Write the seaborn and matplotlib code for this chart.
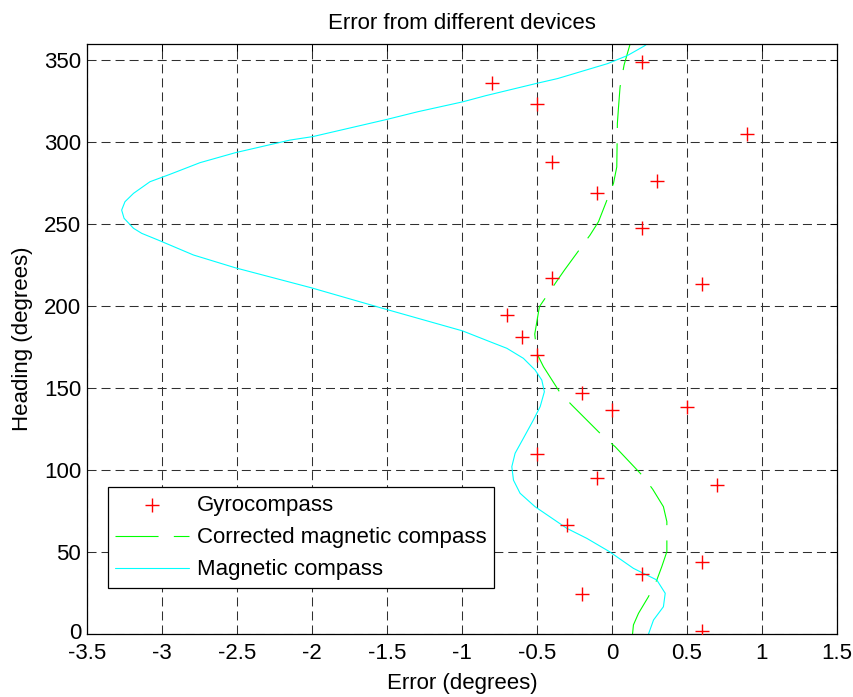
import matplotlib
matplotlib.use("Agg")
import matplotlib.pyplot as plt
import matplotlib.transforms as mtransforms
import seaborn as sns
import pandas as pd

# ---- data ----
gyro_heading = [1.7, 24.6, 36.8, 43.9, 66.5, 90.8, 95, 110, 137, 138.4, 147, 170.4,
                181, 194.7, 213.4, 217, 248, 269, 276.5, 288.3, 304.9, 323.7, 336.4, 349]
gyro_error = [0.6, -0.2, 0.2, 0.6, -0.3, 0.7, -0.1, -0.5, 0.0, 0.5, -0.2, -0.5,
              -0.6, -0.7, 0.6, -0.4, 0.2, -0.1, 0.3, -0.4, 0.9, -0.5, -0.8, 0.2]

corr_heading = [0, 5.7, 12.8, 22.9, 33.1, 41.2, 50.4, 68.7, 77.8, 88.4, 96.1, 114.4,
                120.5, 139.8, 147.3, 163.2, 171.3, 183.1, 199.8, 215, 222.1, 243.5,
                251.6, 275, 285, 311.6, 320.7, 333.9, 347.3, 360]
corr_error = [0.138, 0.144, 0.178, 0.244, 0.30, 0.333, 0.367, 0.367, 0.344, 0.273,
              0.211, 0.022, -0.056, -0.267, -0.345, -0.456, -0.50, -0.514, -0.483,
              -0.37, -0.316, -0.145, -0.089, 0.011, 0.033, 0.037, 0.044, 0.055,
              0.082, 0.122]

mag_heading = [0, 8.7, 16.8, 25, 33.1, 40.2, 50.4, 58.5, 64.6, 77.8, 86, 94, 102.2,
               110.4, 119.5, 130.7, 138.8, 147.9, 155, 161.2, 168.3, 174.4, 178.4,
               185, 199, 211.3, 223.5, 231.3, 240.4, 244.5, 247.6, 253.7, 258.7,
               263.8, 268.9, 276, 280.5, 287.6, 293.7, 301.4, 303.5, 314, 318.7,
               324.7, 328.5, 335.9, 338.9, 348, 353, 358.7, 360]
mag_error = [0.244, 0.278, 0.344, 0.356, 0.30, 0.144, -0.016, -0.167, -0.30, -0.512,
             -0.612, -0.656, -0.667, -0.645, -0.59, -0.523, -0.478, -0.45, -0.467,
             -0.512, -0.59, -0.70, -0.812, -0.995, -1.537, -2.004, -2.511, -2.79,
             -3.025, -3.135, -3.19, -3.253, -3.269, -3.247, -3.19, -3.08, -2.947,
             -2.747, -2.511, -2.146, -1.995, -1.5, -1.293, -0.995, -0.84, -0.505,
             -0.362, -0.029, 0.105, 0.215, 0.235]

x_ticks = [-3.5, -3, -2.5, -2, -1.5, -1, -0.5, 0, 0.5, 1, 1.5]
x_tick_labels = ["-3.5", "-3", "-2.5", "-2", "-1.5", "-1", "-0.5", "0", "0.5", "1", "1.5"]
y_ticks = [0, 50, 100, 150, 200, 250, 300, 350]

FS = 16

# ---- style ----
sns.set_style("white")
plt.rcParams["font.family"] = ["Liberation Sans", "DejaVu Sans"]
plt.rcParams["lines.scale_dashes"] = False
plt.rcParams["text.color"] = "black"
plt.rcParams["axes.labelcolor"] = "black"
plt.rcParams["xtick.color"] = "black"
plt.rcParams["ytick.color"] = "black"

fig = plt.figure(figsize=(8.54, 6.97), dpi=100)
ax = fig.add_axes([0.1019, 0.09, 0.8779, 0.8469])

gyro_df = pd.DataFrame({"err": gyro_error, "hdg": gyro_heading})
corr_df = pd.DataFrame({"err": corr_error, "hdg": corr_heading})
mag_df = pd.DataFrame({"err": mag_error, "hdg": mag_heading})

sns.scatterplot(data=gyro_df, x="err", y="hdg", marker="+", color="#ff0000",
                s=90, linewidth=1.0, ax=ax, label="Gyrocompass", zorder=3)
sns.lineplot(data=corr_df, x="err", y="hdg", sort=False, estimator=None,
             color="#00ff00", linewidth=0.8, ax=ax,
             label="Corrected magnetic compass", zorder=2)
ax.lines[-1].set_dashes((31, 11))
sns.lineplot(data=mag_df, x="err", y="hdg", sort=False, estimator=None,
             color="#00ffff", linewidth=0.8, ax=ax, label="Magnetic compass", zorder=2)

ax.set_xlim(-3.5, 1.5)
ax.set_ylim(0, 360)
ax.set_xticks(x_ticks)
ax.set_xticklabels(x_tick_labels)
ax.set_yticks(y_ticks)

ax.grid(True, color="#303030", linestyle=(0, (6.5, 3.6)), linewidth=0.75)
for s in ax.spines.values():
    s.set_visible(True)
    s.set_color("black")
    s.set_linewidth(0.9)

ax.tick_params(axis="both", direction="in", length=5, width=0.75, labelsize=FS,
               top=True, right=True, colors="black", labelcolor="black")
ax.tick_params(axis="x", pad=6.1)
ax.tick_params(axis="y", pad=4.3)

ax.set_title("Error from different devices", fontsize=FS, pad=10.6, color="black")
ax.set_xlabel("Error (degrees)", fontsize=FS, labelpad=7, color="black")
ax.set_ylabel("Heading (degrees)", fontsize=FS, labelpad=8, color="black")

leg = ax.legend(loc="lower left", bbox_to_anchor=(0.0276, 0.078), borderaxespad=0,
                fontsize=FS, frameon=True, fancybox=False, edgecolor="black",
                framealpha=1, handlelength=3.3, handletextpad=0.36,
                labelspacing=0.5, borderpad=0.35, labelcolor="black")
leg.get_frame().set_linewidth(0.9)

# nudge the "0" heading label up slightly so it clears the x tick labels
zero_lbl = ax.get_yticklabels()[0]
zero_lbl.set_transform(zero_lbl.get_transform() +
                       mtransforms.ScaledTranslation(0, 2 / 72, fig.dpi_scale_trans))

fig.savefig("out.png", dpi=100)
